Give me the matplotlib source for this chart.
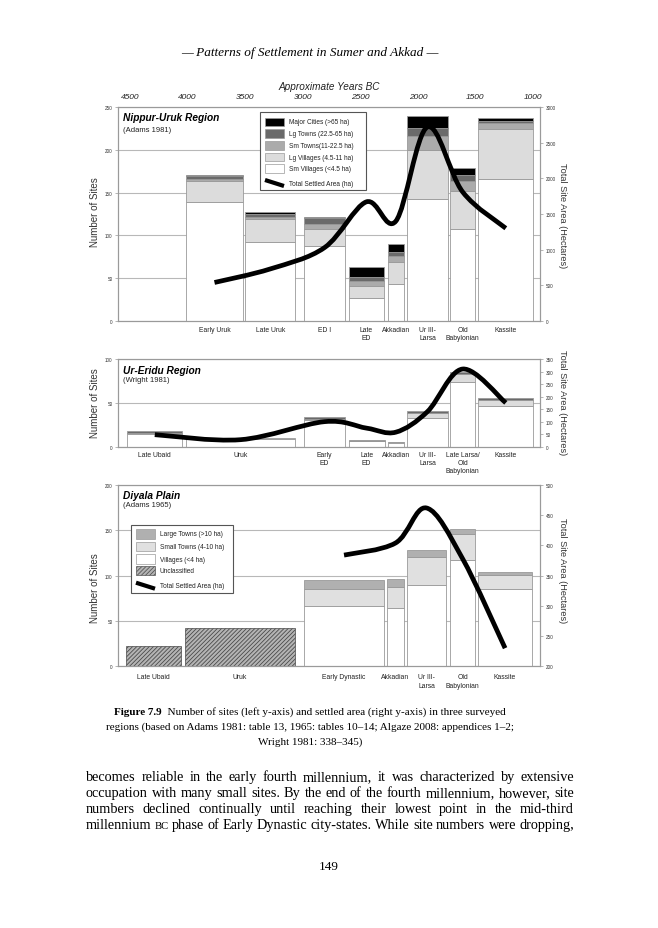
import numpy as np
import matplotlib
matplotlib.use('Agg')
import matplotlib.pyplot as plt
from matplotlib.patches import Rectangle, PathPatch
from matplotlib.lines import Line2D
from matplotlib.path import Path

W, H = 658, 929
SANS = 'Liberation Sans'
SERIF = 'Liberation Serif'

# Nippur-Uruk region (Adams 1981)
nu_periods = ['Early Uruk', 'Late Uruk', 'ED I', 'Late\nED', 'Akkadian',
              'Ur III-\nLarsa', 'Old\nBabylonian', 'Kassite']
nu_start = [4016, 3499, 2989, 2601, 2262, 2092, 1721, 1475]
nu_end = [3516, 3064, 2630, 2294, 2120, 1741, 1501, 997]
nu_sm_villages = [139.5, 92, 88, 26.5, 43, 143, 108, 166]
nu_lg_villages = [23.5, 27, 19, 14.7, 25.4, 57, 44, 58.6]
nu_sm_towns = [3, 3, 6, 5.9, 7.8, 16, 11, 7]
nu_lg_towns = [3, 3, 7, 3.9, 4.6, 10, 7, 2]
nu_major = [2, 2, 2, 11.7, 9, 13, 8.5, 3.9]
nu_area = [540, 730, 1030, 1670, 1400, 2720, 1810, 1300]

# Ur-Eridu region (Wright 1981)
ue_periods = ['Late Ubaid', 'Uruk', 'Early\nED', 'Late\nED', 'Akkadian',
              'Ur III-\nLarsa', 'Late Larsa/\nOld\nBabylonian', 'Kassite']
ue_start = [4523, 4016, 2989, 2601, 2262, 2092, 1721, 1475]
ue_end = [4046, 3064, 2630, 2288, 2120, 1741, 1501, 997]
ue_villages = [14, 8.5, 30, 6, 4, 32.4, 73.4, 46.8]
ue_lg_villages = [1.8, 1.5, 2, 0, 0.8, 6, 10, 6]
ue_towns = [1.8, 0, 1.5, 2, 1, 2, 1.5, 2.3]
ue_area = [48, 28, 100, 74, 58, 140, 310, 175]

# Diyala plain (Adams 1965)
dp_periods = ['Late Ubaid', 'Uruk', 'Early Dynastic', 'Akkadian',
              'Ur III-\nLarsa', 'Old\nBabylonian', 'Kassite']
dp_start = [4535, 4022, 2991, 2265, 2092, 1721, 1475]
dp_end = [4057, 3064, 2291, 2123, 1758, 1501, 1009]
dp_unclassified = [22, 42.6, 0, 0, 0, 0, 0]
dp_villages = [0, 0, 67, 64.7, 90, 117.6, 85.3]
dp_small_towns = [0, 0, 18.4, 23.1, 30.2, 28.4, 15.7]
dp_large_towns = [0, 0, 10.2, 8.5, 8.4, 6, 2.7]
dp_area = [384, 404, 462, 378, 230]   # Early Dynastic onwards

years = [4500, 4000, 3500, 3000, 2500, 2000, 1500, 1000]

header = '\u2014 Patterns of Settlement in Sumer and Akkad \u2014'
caption = ['Number of sites (left y-axis) and settled area (right y-axis) in three surveyed',
           'regions (based on Adams 1981: table 13, 1965: tables 10\u201314; Algaze 2008: appendices 1\u20132;',
           'Wright 1981: 338\u2013345)']
body = ['becomes reliable in the early fourth millennium, it was characterized by extensive',
        'occupation with many small sites. By the end of the fourth millennium, however, site',
        'numbers declined continually until reaching their lowest point in the mid-third',
        'millennium BC phase of Early Dynastic city-states. While site numbers were dropping,']

plt.rcParams['hatch.linewidth'] = 0.6

fig = plt.figure(figsize=(W / 100, H / 100), dpi=100)
fig.patch.set_facecolor('white')


def fx(x):
    return x / W


def fy(y):
    return 1 - y / H


def panel(top, bottom):
    return fig.add_axes([fx(118), fy(bottom), 422 / W, (bottom - top) / H])


def style(ax, ymax, step, ymin=0):
    ax.set_xlim(4604, 939)
    ax.set_ylim(ymin, ymax)
    ax.set_yticks(np.arange(ymin, ymax + 1, step))
    for s in ax.spines.values():
        s.set_color('#9a9a9a')
        s.set_linewidth(0.8)
    ax.tick_params(axis='y', labelsize=3.3, labelcolor='#333333', length=2,
                   width=0.5, color='#999999', pad=2)
    for lab in ax.get_yticklabels():
        lab.set_family(SANS)


def stack(ax, start, end, layers, colors):
    start = np.array(start, float)
    end = np.array(end, float)
    bottom = np.zeros(len(start))
    for vals, c in zip(layers, colors):
        vals = np.array(vals, float)
        m = vals > 0
        ax.bar(end[m], vals[m], width=(start - end)[m], bottom=bottom[m],
               align='edge', color=c, edgecolor='#9a9a9a', linewidth=0.6)
        bottom += vals


def smooth(xs, ys):
    # smoothed line through the data points, as the spreadsheet drew it
    pts = np.column_stack([xs, ys]).astype(float)
    p = np.vstack([pts[0], pts, pts[-1]])
    verts = [pts[0]]
    codes = [Path.MOVETO]
    for i in range(1, len(p) - 2):
        c1 = p[i] + (p[i + 1] - p[i - 1]) / 6
        c2 = p[i + 1] - (p[i + 2] - p[i]) / 6
        verts += [c1, c2, p[i + 1]]
        codes += [Path.CURVE4] * 3
    return Path(verts, codes)


def area_line(tw, xs, ys):
    tw.add_patch(PathPatch(smooth(xs, ys), fill=False, color='black', lw=3.4,
                           capstyle='butt', joinstyle='round'))


def labels(ax, start, end, names, off):
    for s, e, n in zip(start, end, names):
        ax.annotate(n, ((s + e) / 2, 0), xycoords=('data', 'axes fraction'),
                    xytext=(0, -off), textcoords='offset pixels', ha='center',
                    va='top', fontsize=4.9, family=SANS, color='#222222',
                    linespacing=1.25)


def legend(box, rows, px, tx, ph):
    x0, y0, x1, y1 = box
    fig.add_artist(Rectangle((fx(x0), fy(y1)), (x1 - x0) / W, (y1 - y0) / H,
                             transform=fig.transFigure, facecolor='white',
                             edgecolor='#555555', lw=0.8))
    for name, style_, yc in rows:
        if style_ == 'line':
            fig.add_artist(Line2D([fx(px), fx(px + 19)], [fy(yc - 3), fy(yc + 3)],
                                  transform=fig.transFigure, color='black',
                                  lw=3, solid_capstyle='butt'))
        else:
            c, h = style_
            fig.add_artist(Rectangle((fx(px), fy(yc + ph / 2)), 19 / W, ph / H,
                                     transform=fig.transFigure, facecolor=c,
                                     edgecolor='#555555' if h else '#9a9a9a',
                                     lw=0.5, hatch=h))
        fig.text(fx(tx), fy(yc), name, fontsize=4.7, family=SANS,
                 color='#222222', va='center', ha='left')


def titles(x, y1, y2, title, sub):
    fig.text(fx(x), fy(y1), title, fontsize=7.3, family=SANS, weight='bold',
             style='italic', va='center', ha='left')
    fig.text(fx(x), fy(y2), sub, fontsize=5.5, family=SANS, color='#222222',
             va='center', ha='left')


def ylabels(yl, yr):
    fig.text(fx(95), fy(yl), 'Number of Sites', rotation=90, fontsize=7,
             family=SANS, color='#333333', ha='center', va='center')
    fig.text(fx(563), fy(yr), 'Total Site Area (Hectares)', rotation=270,
             fontsize=6.6, family=SANS, color='#333333', ha='center', va='center')


nu_colors = ['white', '#dcdcdc', '#ababab', '#6a6a6a', 'black']

# ---- top panel
ax1 = panel(108, 322)
style(ax1, 250, 50)
ax1.yaxis.grid(True, color='#b8b8b8', lw=0.8)
ax1.set_axisbelow(True)
stack(ax1, nu_start, nu_end,
      [nu_sm_villages, nu_lg_villages, nu_sm_towns, nu_lg_towns, nu_major],
      nu_colors)
ax1.xaxis.tick_top()
ax1.set_xticks(years)
ax1.set_xticklabels([str(y) for y in years], fontsize=6, style='italic',
                    family=SANS, color='#222222')
ax1.tick_params(axis='x', length=0, pad=5)
fig.text(fx(329), fy(87), 'Approximate Years BC', fontsize=7.2, style='italic',
         family=SANS, color='#222222', ha='center', va='center')
labels(ax1, nu_start, nu_end, nu_periods, 5)
tw1 = ax1.twinx()
style(tw1, 3000, 500)
area_line(tw1, [(s + e) / 2 for s, e in zip(nu_start, nu_end)], nu_area)
titles(123, 117.7, 131, 'Nippur-Uruk Region', '(Adams 1981)')
ylabels(212, 216)
legend((260, 113, 366, 191),
       [('Major Cities (>65 ha)', ('black', None), 123),
        ('Lg Towns (22.5-65 ha)', ('#6a6a6a', None), 134.7),
        ('Sm Towns(11-22.5 ha)', ('#ababab', None), 146.3),
        ('Lg Villages (4.5-11 ha)', ('#dcdcdc', None), 158),
        ('Sm Villages (<4.5 ha)', ('white', None), 169.7),
        ('Total Settled Area (ha)', 'line', 184)],
       265, 289, 8.7)

# ---- middle panel
ax2 = panel(360, 447.7)
style(ax2, 100, 50)
ax2.yaxis.grid(True, color='#b8b8b8', lw=0.8)
ax2.set_axisbelow(True)
ax2.tick_params(axis='x', bottom=False, labelbottom=False)
stack(ax2, ue_start, ue_end, [ue_villages, ue_lg_villages, ue_towns],
      ['white', '#dcdcdc', '#6a6a6a'])
labels(ax2, ue_start, ue_end, ue_periods, 4)
tw2 = ax2.twinx()
style(tw2, 350, 50)
area_line(tw2, [(s + e) / 2 for s, e in zip(ue_start, ue_end)], ue_area)
titles(123, 370.7, 380.7, 'Ur-Eridu Region', '(Wright 1981)')
ylabels(403, 403)

# ---- bottom panel
ax3 = panel(486, 667.3)
style(ax3, 200, 50)
ax3.yaxis.grid(True, color='#b8b8b8', lw=0.8)
ax3.set_axisbelow(True)
ax3.tick_params(axis='x', bottom=False, labelbottom=False)
st = np.array(dp_start, float)
en = np.array(dp_end, float)
unc = np.array(dp_unclassified, float)
m = unc > 0
ax3.bar(en[m], unc[m], width=(st - en)[m], align='edge', color='#b4b4b4',
        edgecolor='#4a4a4a', linewidth=0.5, hatch='////////')
stack(ax3, dp_start, dp_end, [dp_villages, dp_small_towns, dp_large_towns],
      ['white', '#e0e0e0', '#b0b0b0'])
labels(ax3, dp_start, dp_end, dp_periods, 7)
tw3 = ax3.twinx()
style(tw3, 500, 50, ymin=200)
area_line(tw3, [(s + e) / 2 for s, e in zip(dp_start[2:], dp_end[2:])], dp_area)
titles(123, 495.7, 506, 'Diyala Plain', '(Adams 1965)')
ylabels(588, 571)
legend((131, 526, 233, 594),
       [('Large Towns (>10 ha)', ('#b0b0b0', None), 535),
        ('Small Towns (4-10 ha)', ('#e0e0e0', None), 547.3),
        ('Villages (<4 ha)', ('white', None), 560),
        ('Unclassified', ('#b4b4b4', '////////'), 571.7),
        ('Total Settled Area (ha)', 'line', 586.7)],
       136, 160, 9.3)

# ---- page text
fig.text(fx(310), fy(53), header, family=SERIF, style='italic', fontsize=9.5,
         ha='center', va='center')

renderer = fig.canvas.get_renderer()
cap_size = 8.0
t_bold = fig.text(0, fy(715), 'Figure 7.9', family=SERIF, weight='bold',
                  fontsize=cap_size, va='baseline')
t_rest = fig.text(0, fy(715), '  ' + caption[0], family=SERIF, fontsize=cap_size,
                  va='baseline')
wb = t_bold.get_window_extent(renderer).width
wr = t_rest.get_window_extent(renderer).width
x0 = 310 - (wb + wr) / 2
t_bold.set_x(fx(x0))
t_rest.set_x(fx(x0 + wb))
for i, line in enumerate(caption[1:]):
    fig.text(fx(310), fy(730 + 15 * i), line, family=SERIF, fontsize=cap_size,
             ha='center', va='baseline')


def justify(y, line, xa, xb, size):
    items = []
    for w in line.split():
        s = size * 0.74 if w == 'BC' else size
        items.append(fig.text(0, fy(y), w, family=SERIF, fontsize=s,
                              va='baseline'))
    widths = [t.get_window_extent(renderer).width for t in items]
    gap = (xb - xa - sum(widths)) / (len(items) - 1)
    x = xa
    for t, w in zip(items, widths):
        t.set_x(fx(x))
        x += w + gap


for i, line in enumerate(body):
    justify(781 + 16 * i, line, 86, 574, 10.3)

fig.text(fx(329), fy(870), '149', family=SERIF, fontsize=9.5, ha='center',
         va='baseline')

fig.savefig('out.png', dpi=100, facecolor='white')
